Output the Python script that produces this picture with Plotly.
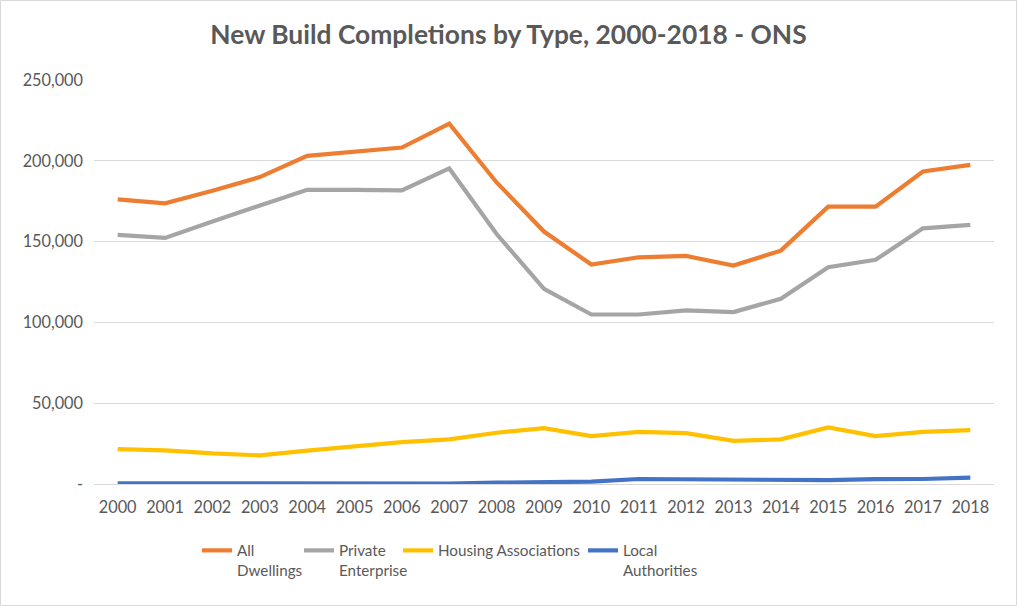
import plotly.graph_objects as go

years = [str(y) for y in range(2000, 2019)]
all_dwellings = [176100, 173700, 181500, 189900, 203100, 205600, 208200, 223000, 186600, 156200,
                 135800, 140300, 141100, 135200, 144400, 171600, 171600, 193400, 197500]
private_enterprise = [154100, 152300, 162500, 172200, 182100, 182000, 181700, 195300, 154700, 120800,
                      104900, 104900, 107400, 106400, 114600, 134200, 138700, 158200, 160300]
housing_associations = [21600, 20800, 18900, 17700, 20600, 23500, 25900, 27600, 31700, 34600,
                        29600, 32300, 31500, 26700, 27600, 35000, 29600, 32300, 33300]
local_authorities = [400, 300, 300, 200, 200, 200, 300, 250, 800, 1200,
                     1500, 3100, 3000, 2300, 2200, 2400, 3000, 3100, 4000]

y_tickvals = [0, 50000, 100000, 150000, 200000, 250000]
y_ticktext = ["-", "50,000", "100,000", "150,000", "200,000", "250,000"]

series = [
    ("All<br>Dwellings", all_dwellings, "#ED7D31"),
    ("Private<br>Enterprise", private_enterprise, "#A5A5A5"),
    ("Housing Associations", housing_associations, "#FFC000"),
    ("Local<br>Authorities", local_authorities, "#4472C4"),
]

W, H = 1017, 606
L, R, T, B = 94, 23, 80, 122
pw, ph = W - L - R, H - T - B

# pixel x where each legend entry's text begins
legend_text_px = [237, 339, 438, 623]
legend_names = ["legend", "legend2", "legend3", "legend4"]

font = "Lato, 'Open Sans', sans-serif"

fig = go.Figure()
for (name, vals, col), lg in zip(series, legend_names):
    fig.add_trace(go.Scatter(x=years, y=vals, name=name, mode="lines", legend=lg,
                             line=dict(color=col, width=4.2)))

legend_layout = {}
for lg, tx in zip(legend_names, legend_text_px):
    legend_layout[lg] = dict(orientation="h", x=(tx - 40 - L) / pw, xanchor="left",
                             y=-(534 - (H - B)) / ph, yanchor="top", valign="top",
                             font=dict(size=15.2, color="#595959", family=font),
                             bgcolor="rgba(0,0,0,0)")

fig.update_layout(
    width=W, height=H,
    margin=dict(l=L, r=R, t=T, b=B),
    paper_bgcolor="white", plot_bgcolor="white",
    font=dict(family=font, color="#595959", size=16),
    title=dict(text="<b>New Build Completions by Type, 2000-2018 - ONS</b>",
               x=0.5, xref="container", xanchor="center", y=1 - 35 / H, yanchor="middle",
               font=dict(size=26.4, color="#595959", family=font)),
    showlegend=True,
    xaxis=dict(type="category", range=[-0.5, 18.5], showgrid=False, showline=False,
               ticks="", tickfont=dict(size=16.3), ticklabelstandoff=12, fixedrange=True),
    yaxis=dict(range=[0, 250000], tickvals=y_tickvals, ticktext=y_ticktext,
               showgrid=True, gridcolor="#D9D9D9", gridwidth=1, zeroline=True,
               zerolinecolor="#D9D9D9", zerolinewidth=1, showline=False, ticks="",
               ticklabelstandoff=10, tickfont=dict(size=16.3), fixedrange=True),
    shapes=[dict(type="rect", xref="paper", yref="paper",
                 x0=-(L - 0.5) / pw, x1=1 + (R - 0.5) / pw,
                 y0=-(B - 0.5) / ph, y1=1 + (T - 0.5) / ph,
                 line=dict(color="#D9D9D9", width=1), fillcolor="rgba(0,0,0,0)", layer="below")],
    **legend_layout,
)

fig.write_html("out.html", config={"displayModeBar": False},
               post_script="document.body.style.margin='0';")
